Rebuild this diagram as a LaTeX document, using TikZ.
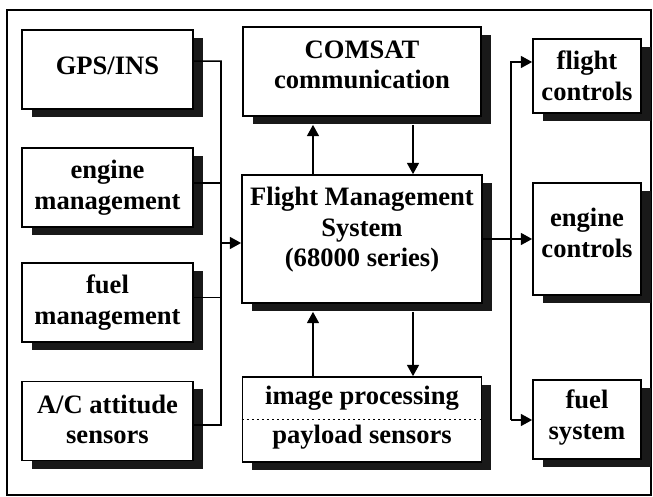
\documentclass[tikz,border=0pt]{standalone}
\usepackage{fontspec}
\setmainfont{Liberation Serif}
\usetikzlibrary{shadows,arrows.meta}

\begin{document}
\begin{tikzpicture}[x=0.025cm, y=-0.025cm,
  box/.style={draw, line width=1.2pt, fill=white, inner sep=0pt,
    drop shadow={shadow xshift=0.24cm, shadow yshift=-0.2cm, fill=black!90, opacity=1}},
  boxtext/.style={inner sep=0pt, align=center, font=\bfseries\fontsize{18.9}{21.7}\selectfont},
  wire/.style={line width=1.1pt},
  arr/.style={wire, -{Triangle[length=8pt, width=8.5pt]}}]
\useasboundingbox (0,0) rectangle (653,497);
\draw[line width=1.1pt] (7,10) rectangle (651,495);

% inputs
\node[box, minimum width=4.275cm, minimum height=1.975cm] (gps) at (107.5,69.5) {};
\node[boxtext] (gpstext) at ([yshift=0.1cm]gps.center) {GPS/INS};
\node[box, minimum width=4.275cm, minimum height=1.975cm] (engmgmt) at (107.5,187.5) {};
\node[boxtext] (engmgmttext) at (engmgmt.center) {engine\\management};
\node[box, minimum width=4.275cm, minimum height=1.975cm] (fuelmgmt) at (107.5,302.5) {};
\node[boxtext] (fuelmgmttext) at (fuelmgmt.center) {fuel\\management};
\node[box, minimum width=4.275cm, minimum height=1.975cm] (attitude) at (107.5,421) {};
\node[boxtext] (attitudetext) at ([yshift=0.04cm]attitude.center) {A/C attitude\\sensors};

% centre column
\node[box, minimum width=5.95cm, minimum height=2.225cm] (comsat) at (362,71.5) {};
\node[boxtext] (comsattext) at ([yshift=0.16cm]comsat.center) {COMSAT\\communication};
\node[box, minimum width=6cm, minimum height=3.2cm] (fms) at (362,239) {};
\node[boxtext] (fmstext) at ([yshift=0.23cm]fms.center) {Flight Management\\System\\(68000 series)};
\node[box, minimum width=5.975cm, minimum height=2.125cm] (imgproc) at (362,419.5) {};
\node[boxtext] (imgtop) at (362,398) {image processing};
\node[boxtext] (imgbot) at (362,437) {payload sensors};
\draw[line width=0.9pt, dash pattern=on 1.4pt off 2.2pt] (imgproc.west) -- (imgproc.east);

% outputs
\node[box, minimum width=2.7cm, minimum height=1.85cm] (flightctl) at (587,76) {};
\node[boxtext] (flightctltext) at (flightctl.center) {flight\\controls};
\node[box, minimum width=2.7cm, minimum height=2.8cm] (enginectl) at (587,239) {};
\node[boxtext] (enginectltext) at ([yshift=0.15cm]enginectl.center) {engine\\controls};
\node[box, minimum width=2.7cm, minimum height=1.975cm] (fuelsys) at (587,419.5) {};
\node[boxtext] (fuelsystext) at ([yshift=0.05cm]fuelsys.center) {fuel\\system};

% left bus
\coordinate (lbot) at (221,425);
\coordinate (fmsin) at ([yshift=-0.1cm]fms.west);
\draw[wire] ([yshift=0.21cm]gps.east) -| (lbot) -- ([yshift=-0.1cm]attitude.east);
\draw[wire] ([yshift=0.11cm]engmgmt.east) -| (lbot);
\draw[wire] ([yshift=0.13cm]fuelmgmt.east) -| (lbot);
\draw[arr] (lbot |- fmsin) -- (fmsin);

% right bus
\coordinate (rbot) at (511,420);
\draw[arr] (rbot) |- ([yshift=0.35cm]flightctl.west);
\draw[arr] (rbot) -- (rbot -| fuelsys.west);
\draw[arr] (fms.east) -- (enginectl.west);

% up and down links
\draw[arr] ([xshift=-1.225cm]fms.north) -- ([xshift=-1.225cm, yshift=-0.2cm]comsat.south);
\draw[arr] ([xshift=1.275cm, yshift=-0.2cm]comsat.south) -- ([xshift=1.275cm]fms.north);
\draw[arr] ([xshift=-1.225cm]imgproc.north) -- ([xshift=-1.225cm, yshift=-0.2cm]fms.south);
\draw[arr] ([xshift=1.275cm, yshift=-0.2cm]fms.south) -- ([xshift=1.275cm]imgproc.north);
\end{tikzpicture}
\end{document}
